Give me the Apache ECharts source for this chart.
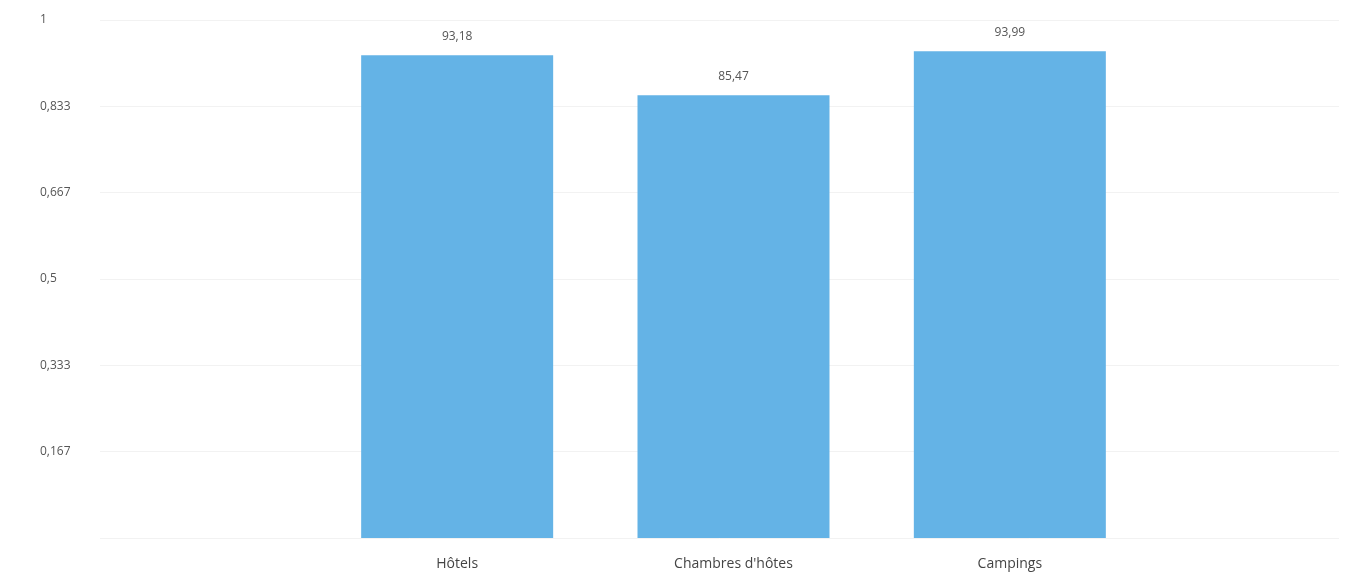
<!DOCTYPE html>
<html>
<head>
<meta charset="utf-8">
<script src="https://cdn.jsdelivr.net/npm/echarts@6/dist/echarts.min.js"></script>
<style>
  html, body { margin: 0; padding: 0; background: #fff; }
  #js_chart { width: 1353px; height: 572px; }
</style>
</head>
<body>
<div id="js_chart"></div>
<script>
// data
var categories = ['Hôtels', "Chambres d'hôtes", 'Campings'];
var values = [0.9318, 0.8547, 0.9399];
var yTicks = [0, 1/6, 2/6, 3/6, 4/6, 5/6, 1];

function frNum(v, d) {
    return (+v.toFixed(d)).toString().replace('.', ',');
}

var myChart = echarts.init(document.getElementById('js_chart'));
var option = {
    color: ['#64b3e6'],
    textStyle: { fontFamily: 'Open Sans' },
    grid: [
        { left: 100, right: 14, top: 20, bottom: 34 },
        { left: 319, right: 205, top: 20, bottom: 34 }
    ],
    xAxis: [
        { type: 'category', gridIndex: 0, data: [''], show: false },
        {
            type: 'category',
            gridIndex: 1,
            data: categories,
            axisLine: { show: false },
            axisTick: { show: false },
            axisLabel: { color: '#444', fontSize: 14, margin: 19 }
        }
    ],
    yAxis: [
        {
            type: 'value',
            gridIndex: 0,
            min: yTicks[0],
            max: yTicks[yTicks.length - 1],
            interval: 1 / 6,
            axisLine: { show: false },
            axisTick: { show: false },
            splitLine: { lineStyle: { color: '#f2f2f2', width: 1 } },
            axisLabel: {
                color: '#555',
                fontSize: 12,
                align: 'left',
                margin: 60,
                formatter: function (v) {
                    return v === 0 ? '' : frNum(v, 3);
                }
            }
        },
        { type: 'value', gridIndex: 1, min: 0, max: 1, show: false }
    ],
    series: [
        {
            type: 'bar',
            xAxisIndex: 1,
            yAxisIndex: 1,
            barWidth: 192,
            data: values,
            label: {
                show: true,
                position: 'top',
                distance: 13,
                color: '#555',
                fontSize: 12,
                formatter: function (p) {
                    return frNum(p.value * 100, 2);
                }
            }
        }
    ]
};
myChart.setOption(option);
window.addEventListener('resize', function () { myChart.resize(); });
</script>
</body>
</html>
